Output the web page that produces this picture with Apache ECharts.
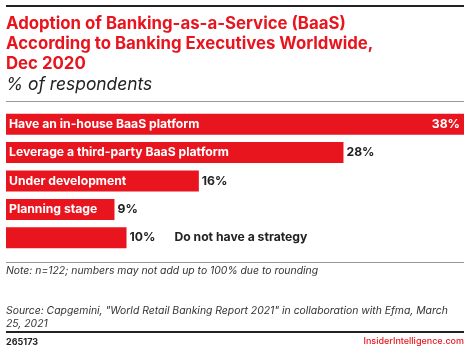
<!DOCTYPE html>
<html>
<head>
<meta charset="utf-8">
<script src="https://cdn.jsdelivr.net/npm/echarts@6/dist/echarts.min.js"></script>
<style>
  html, body { margin: 0; padding: 0; background: #fff; }
  #chart { width: 470px; height: 352px; }
</style>
</head>
<body>
<div id="chart"></div>
<script>
// 数据
const categories = [
  "Have an in-house BaaS platform",
  "Leverage a third-party BaaS platform",
  "Under development",
  "Planning stage",
  "Do not have a strategy",
];
const values = [38, 28, 16, 9, 10];

const RED = "#e8141e";
const FONT = "Inter";
const LABEL_SIZE = 12.2;

const chart = echarts.init(document.getElementById("chart"));

// 名称标签：最后一项放在柱子外面
const nameData = values.map((v, i) => ({
  value: v,
  label: { show: i !== 4 },
}));

// 数值标签：第一项在柱内白色，最后一项带名称
const valueData = values.map((v, i) => {
  if (i === 0) {
    return { value: v, label: { position: "insideRight", color: "#fff", offset: [-1, 0] } };
  }
  return { value: v };
});

chart.setOption({
  animation: false,
  textStyle: { fontFamily: FONT },
  grid: { left: 6, right: 6, top: 110, height: 142 },
  xAxis: { type: "value", min: 0, max: 38, show: false },
  yAxis: {
    type: "category",
    data: categories,
    inverse: true,
    show: false,
  },
  series: [
    {
      type: "bar",
      data: nameData,
      barCategoryGap: "26%",
      itemStyle: { color: RED },
      label: {
        show: true,
        position: "insideLeft",
        offset: [-2, 0],
        formatter: "{b}",
        color: "#fff",
        fontWeight: "bold",
        fontSize: LABEL_SIZE,
        fontFamily: FONT,
      },
      z: 2,
    },
    {
      type: "bar",
      data: valueData,
      barGap: "-100%",
      barCategoryGap: "26%",
      itemStyle: { color: "transparent" },
      label: {
        show: true,
        position: "right",
        distance: 3,
        color: "#222",
        fontWeight: "bold",
        fontSize: LABEL_SIZE,
        fontFamily: FONT,
        formatter: (p) =>
          p.dataIndex === 4
            ? "{v|" + p.value + "%}{n|" + p.name + "}"
            : p.value + "%",
        rich: {
          v: { fontWeight: "bold", fontSize: LABEL_SIZE, color: "#222", fontFamily: FONT },
          n: { fontWeight: "bold", fontSize: LABEL_SIZE, color: "#222", fontFamily: FONT, padding: [0, 0, 0, 19] },
        },
      },
      z: 3,
    },
  ],
  graphic: [
    { type: "rect", shape: { x: 6, y: 5, width: 458, height: 2 }, style: { fill: "#222" } },
    {
      type: "text", left: 6, top: 14,
      style: {
        text: "Adoption of Banking-as-a-Service (BaaS)\nAccording to Banking Executives Worldwide,\nDec 2020",
        fill: RED, font: "bold 16.8px " + FONT, lineHeight: 20,
      },
    },
    {
      type: "text", left: 6, top: 76,
      style: { text: "% of respondents", fill: "#222", font: "italic 17.4px " + FONT },
    },
    { type: "rect", shape: { x: 6, y: 101, width: 458, height: 1 }, style: { fill: "#999" } },
    { type: "rect", shape: { x: 6, y: 262, width: 458, height: 1 }, style: { fill: "#999" } },
    {
      type: "text", left: 6, top: 266,
      style: { text: "Note: n=122; numbers may not add up to 100% due to rounding", fill: "#333", font: "italic 10.4px " + FONT },
    },
    {
      type: "text", left: 6, top: 304,
      style: {
        text: "Source: Capgemini, \"World Retail Banking Report 2021\" in collaboration with Efma, March\n25, 2021",
        fill: "#333", font: "italic 10.4px " + FONT, lineHeight: 13,
      },
    },
    { type: "rect", shape: { x: 6, y: 331, width: 458, height: 2 }, style: { fill: "#222" } },
    {
      type: "text", left: 6, top: 338,
      style: { text: "265173", fill: "#222", font: "bold 9px " + FONT },
    },
    {
      type: "text", right: 6, top: 337,
      style: { text: "InsiderIntelligence.com", fill: RED, font: "500 9px " + FONT },
    },
  ],
});
</script>
</body>
</html>
